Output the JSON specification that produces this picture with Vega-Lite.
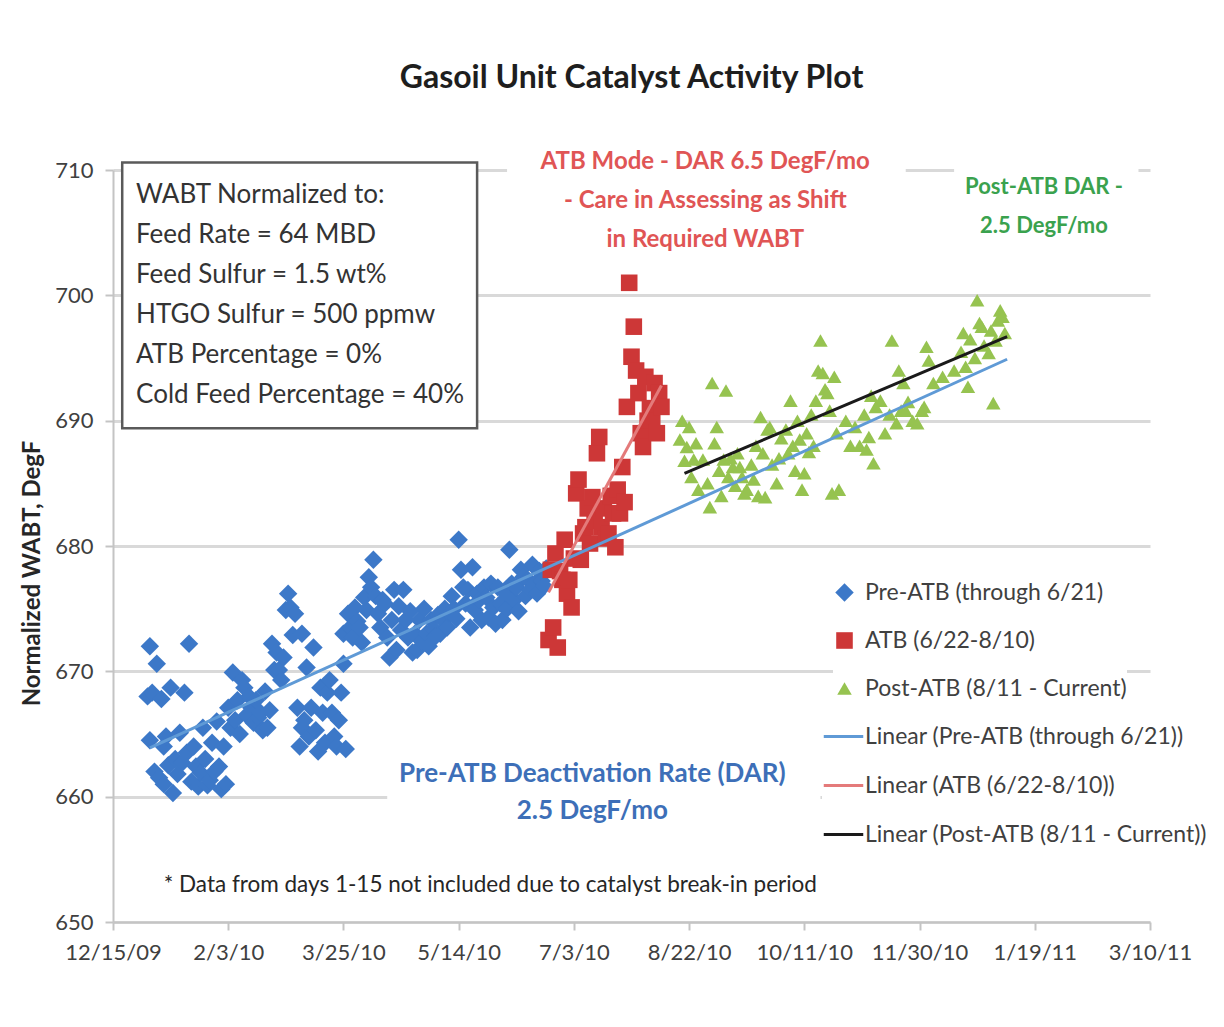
{
"$schema": "https://vega.github.io/schema/vega-lite/v6.json",
"width": 1037, "height": 752,
"autosize": {"type": "none"},
"padding": {"left": 113, "top": 170, "right": 74, "bottom": 105},
"background": "white",
"config": {"font": "Lato", "view": {"stroke": null}},
"title": {"text": "Gasoil Unit Catalyst Activity Plot", "fontSize": 32, "fontWeight": "bold", "color": "#1e1e1e", "anchor": "middle", "frame": "group", "offset": 44},
"datasets": {
"masks": [
{"date": "2010/06/04", "date2": "2010/11/24", "wabt": 712.5, "wabt2": 703.0},
{"date": "2010/12/15", "date2": "2011/03/05", "wabt": 711.5, "wabt2": 703.5},
{"date": "2010/04/13", "date2": "2010/10/18", "wabt": 664.5, "wabt2": 656.5}
],
"infobox": [{"date": "2009/12/19", "date2": "2010/05/22", "wabt": 710.6, "wabt2": 689.4}],
"pts": [
{"series":"Pre-ATB (through 6/21)","date":"2009/12/30","wabt":668.0},
{"series":"Pre-ATB (through 6/21)","date":"2009/12/31","wabt":672.0},
{"series":"Pre-ATB (through 6/21)","date":"2009/12/31","wabt":664.5},
{"series":"Pre-ATB (through 6/21)","date":"2010/01/01","wabt":668.3},
{"series":"Pre-ATB (through 6/21)","date":"2010/01/02","wabt":662.0},
{"series":"Pre-ATB (through 6/21)","date":"2010/01/03","wabt":670.6},
{"series":"Pre-ATB (through 6/21)","date":"2010/01/04","wabt":661.5},
{"series":"Pre-ATB (through 6/21)","date":"2010/01/05","wabt":667.8},
{"series":"Pre-ATB (through 6/21)","date":"2010/01/06","wabt":661.0},
{"series":"Pre-ATB (through 6/21)","date":"2010/01/06","wabt":664.0},
{"series":"Pre-ATB (through 6/21)","date":"2010/01/07","wabt":664.8},
{"series":"Pre-ATB (through 6/21)","date":"2010/01/08","wabt":662.5},
{"series":"Pre-ATB (through 6/21)","date":"2010/01/09","wabt":668.7},
{"series":"Pre-ATB (through 6/21)","date":"2010/01/10","wabt":660.3},
{"series":"Pre-ATB (through 6/21)","date":"2010/01/11","wabt":663.0},
{"series":"Pre-ATB (through 6/21)","date":"2010/01/12","wabt":661.8},
{"series":"Pre-ATB (through 6/21)","date":"2010/01/13","wabt":665.1},
{"series":"Pre-ATB (through 6/21)","date":"2010/01/14","wabt":662.7},
{"series":"Pre-ATB (through 6/21)","date":"2010/01/15","wabt":668.3},
{"series":"Pre-ATB (through 6/21)","date":"2010/01/16","wabt":663.5},
{"series":"Pre-ATB (through 6/21)","date":"2010/01/17","wabt":672.2},
{"series":"Pre-ATB (through 6/21)","date":"2010/01/18","wabt":661.2},
{"series":"Pre-ATB (through 6/21)","date":"2010/01/19","wabt":664.0},
{"series":"Pre-ATB (through 6/21)","date":"2010/01/20","wabt":662.4},
{"series":"Pre-ATB (through 6/21)","date":"2010/01/21","wabt":660.8},
{"series":"Pre-ATB (through 6/21)","date":"2010/01/22","wabt":661.9},
{"series":"Pre-ATB (through 6/21)","date":"2010/01/23","wabt":665.5},
{"series":"Pre-ATB (through 6/21)","date":"2010/01/24","wabt":663.0},
{"series":"Pre-ATB (through 6/21)","date":"2010/01/25","wabt":660.9},
{"series":"Pre-ATB (through 6/21)","date":"2010/01/26","wabt":661.3},
{"series":"Pre-ATB (through 6/21)","date":"2010/01/27","wabt":664.3},
{"series":"Pre-ATB (through 6/21)","date":"2010/01/28","wabt":662.0},
{"series":"Pre-ATB (through 6/21)","date":"2010/01/29","wabt":666.0},
{"series":"Pre-ATB (through 6/21)","date":"2010/01/30","wabt":662.4},
{"series":"Pre-ATB (through 6/21)","date":"2010/01/31","wabt":660.6},
{"series":"Pre-ATB (through 6/21)","date":"2010/02/01","wabt":664.0},
{"series":"Pre-ATB (through 6/21)","date":"2010/02/02","wabt":661.0},
{"series":"Pre-ATB (through 6/21)","date":"2010/02/03","wabt":667.1},
{"series":"Pre-ATB (through 6/21)","date":"2010/02/04","wabt":665.5},
{"series":"Pre-ATB (through 6/21)","date":"2010/02/05","wabt":669.9},
{"series":"Pre-ATB (through 6/21)","date":"2010/02/06","wabt":666.1},
{"series":"Pre-ATB (through 6/21)","date":"2010/02/07","wabt":667.7},
{"series":"Pre-ATB (through 6/21)","date":"2010/02/08","wabt":665.0},
{"series":"Pre-ATB (through 6/21)","date":"2010/02/09","wabt":669.3},
{"series":"Pre-ATB (through 6/21)","date":"2010/02/10","wabt":668.7},
{"series":"Pre-ATB (through 6/21)","date":"2010/02/11","wabt":666.5},
{"series":"Pre-ATB (through 6/21)","date":"2010/02/12","wabt":668.0},
{"series":"Pre-ATB (through 6/21)","date":"2010/02/13","wabt":667.1},
{"series":"Pre-ATB (through 6/21)","date":"2010/02/14","wabt":665.9},
{"series":"Pre-ATB (through 6/21)","date":"2010/02/15","wabt":667.7},
{"series":"Pre-ATB (through 6/21)","date":"2010/02/16","wabt":666.3},
{"series":"Pre-ATB (through 6/21)","date":"2010/02/17","wabt":666.7},
{"series":"Pre-ATB (through 6/21)","date":"2010/02/18","wabt":665.3},
{"series":"Pre-ATB (through 6/21)","date":"2010/02/19","wabt":668.4},
{"series":"Pre-ATB (through 6/21)","date":"2010/02/20","wabt":665.5},
{"series":"Pre-ATB (through 6/21)","date":"2010/02/21","wabt":666.9},
{"series":"Pre-ATB (through 6/21)","date":"2010/02/22","wabt":672.2},
{"series":"Pre-ATB (through 6/21)","date":"2010/02/23","wabt":670.1},
{"series":"Pre-ATB (through 6/21)","date":"2010/02/24","wabt":671.5},
{"series":"Pre-ATB (through 6/21)","date":"2010/02/25","wabt":670.1},
{"series":"Pre-ATB (through 6/21)","date":"2010/02/26","wabt":669.3},
{"series":"Pre-ATB (through 6/21)","date":"2010/02/27","wabt":671.1},
{"series":"Pre-ATB (through 6/21)","date":"2010/02/28","wabt":674.9},
{"series":"Pre-ATB (through 6/21)","date":"2010/03/01","wabt":676.2},
{"series":"Pre-ATB (through 6/21)","date":"2010/03/02","wabt":675.1},
{"series":"Pre-ATB (through 6/21)","date":"2010/03/03","wabt":672.9},
{"series":"Pre-ATB (through 6/21)","date":"2010/03/04","wabt":674.6},
{"series":"Pre-ATB (through 6/21)","date":"2010/03/05","wabt":667.1},
{"series":"Pre-ATB (through 6/21)","date":"2010/03/06","wabt":664.0},
{"series":"Pre-ATB (through 6/21)","date":"2010/03/07","wabt":673.0},
{"series":"Pre-ATB (through 6/21)","date":"2010/03/07","wabt":665.5},
{"series":"Pre-ATB (through 6/21)","date":"2010/03/08","wabt":666.1},
{"series":"Pre-ATB (through 6/21)","date":"2010/03/09","wabt":670.3},
{"series":"Pre-ATB (through 6/21)","date":"2010/03/10","wabt":664.8},
{"series":"Pre-ATB (through 6/21)","date":"2010/03/11","wabt":667.1},
{"series":"Pre-ATB (through 6/21)","date":"2010/03/12","wabt":671.9},
{"series":"Pre-ATB (through 6/21)","date":"2010/03/13","wabt":665.3},
{"series":"Pre-ATB (through 6/21)","date":"2010/03/14","wabt":663.6},
{"series":"Pre-ATB (through 6/21)","date":"2010/03/15","wabt":668.7},
{"series":"Pre-ATB (through 6/21)","date":"2010/03/16","wabt":666.7},
{"series":"Pre-ATB (through 6/21)","date":"2010/03/17","wabt":664.3},
{"series":"Pre-ATB (through 6/21)","date":"2010/03/18","wabt":668.3},
{"series":"Pre-ATB (through 6/21)","date":"2010/03/19","wabt":669.3},
{"series":"Pre-ATB (through 6/21)","date":"2010/03/20","wabt":666.7},
{"series":"Pre-ATB (through 6/21)","date":"2010/03/21","wabt":664.8},
{"series":"Pre-ATB (through 6/21)","date":"2010/03/22","wabt":664.0},
{"series":"Pre-ATB (through 6/21)","date":"2010/03/23","wabt":666.1},
{"series":"Pre-ATB (through 6/21)","date":"2010/03/24","wabt":668.3},
{"series":"Pre-ATB (through 6/21)","date":"2010/03/25","wabt":673.0},
{"series":"Pre-ATB (through 6/21)","date":"2010/03/25","wabt":670.6},
{"series":"Pre-ATB (through 6/21)","date":"2010/03/26","wabt":663.8},
{"series":"Pre-ATB (through 6/21)","date":"2010/03/27","wabt":674.6},
{"series":"Pre-ATB (through 6/21)","date":"2010/03/28","wabt":673.5},
{"series":"Pre-ATB (through 6/21)","date":"2010/03/29","wabt":672.7},
{"series":"Pre-ATB (through 6/21)","date":"2010/03/30","wabt":675.1},
{"series":"Pre-ATB (through 6/21)","date":"2010/03/31","wabt":674.0},
{"series":"Pre-ATB (through 6/21)","date":"2010/04/01","wabt":673.5},
{"series":"Pre-ATB (through 6/21)","date":"2010/04/02","wabt":672.3},
{"series":"Pre-ATB (through 6/21)","date":"2010/04/03","wabt":675.9},
{"series":"Pre-ATB (through 6/21)","date":"2010/04/04","wabt":674.9},
{"series":"Pre-ATB (through 6/21)","date":"2010/04/05","wabt":677.5},
{"series":"Pre-ATB (through 6/21)","date":"2010/04/06","wabt":676.7},
{"series":"Pre-ATB (through 6/21)","date":"2010/04/07","wabt":678.9},
{"series":"Pre-ATB (through 6/21)","date":"2010/04/08","wabt":676.0},
{"series":"Pre-ATB (through 6/21)","date":"2010/04/09","wabt":674.6},
{"series":"Pre-ATB (through 6/21)","date":"2010/04/10","wabt":673.5},
{"series":"Pre-ATB (through 6/21)","date":"2010/04/11","wabt":675.7},
{"series":"Pre-ATB (through 6/21)","date":"2010/04/12","wabt":675.4},
{"series":"Pre-ATB (through 6/21)","date":"2010/04/13","wabt":672.7},
{"series":"Pre-ATB (through 6/21)","date":"2010/04/14","wabt":671.1},
{"series":"Pre-ATB (through 6/21)","date":"2010/04/15","wabt":674.1},
{"series":"Pre-ATB (through 6/21)","date":"2010/04/16","wabt":676.5},
{"series":"Pre-ATB (through 6/21)","date":"2010/04/17","wabt":671.7},
{"series":"Pre-ATB (through 6/21)","date":"2010/04/18","wabt":675.2},
{"series":"Pre-ATB (through 6/21)","date":"2010/04/19","wabt":673.3},
{"series":"Pre-ATB (through 6/21)","date":"2010/04/20","wabt":676.5},
{"series":"Pre-ATB (through 6/21)","date":"2010/04/21","wabt":674.1},
{"series":"Pre-ATB (through 6/21)","date":"2010/04/22","wabt":672.7},
{"series":"Pre-ATB (through 6/21)","date":"2010/04/23","wabt":674.8},
{"series":"Pre-ATB (through 6/21)","date":"2010/04/24","wabt":671.5},
{"series":"Pre-ATB (through 6/21)","date":"2010/04/25","wabt":673.0},
{"series":"Pre-ATB (through 6/21)","date":"2010/04/26","wabt":671.7},
{"series":"Pre-ATB (through 6/21)","date":"2010/04/27","wabt":674.1},
{"series":"Pre-ATB (through 6/21)","date":"2010/04/28","wabt":672.4},
{"series":"Pre-ATB (through 6/21)","date":"2010/04/29","wabt":675.0},
{"series":"Pre-ATB (through 6/21)","date":"2010/04/30","wabt":673.0},
{"series":"Pre-ATB (through 6/21)","date":"2010/05/01","wabt":672.0},
{"series":"Pre-ATB (through 6/21)","date":"2010/05/02","wabt":674.1},
{"series":"Pre-ATB (through 6/21)","date":"2010/05/03","wabt":673.4},
{"series":"Pre-ATB (through 6/21)","date":"2010/05/04","wabt":672.8},
{"series":"Pre-ATB (through 6/21)","date":"2010/05/05","wabt":674.5},
{"series":"Pre-ATB (through 6/21)","date":"2010/05/06","wabt":673.0},
{"series":"Pre-ATB (through 6/21)","date":"2010/05/07","wabt":674.1},
{"series":"Pre-ATB (through 6/21)","date":"2010/05/08","wabt":675.0},
{"series":"Pre-ATB (through 6/21)","date":"2010/05/09","wabt":673.5},
{"series":"Pre-ATB (through 6/21)","date":"2010/05/10","wabt":674.6},
{"series":"Pre-ATB (through 6/21)","date":"2010/05/11","wabt":676.0},
{"series":"Pre-ATB (through 6/21)","date":"2010/05/12","wabt":675.0},
{"series":"Pre-ATB (through 6/21)","date":"2010/05/13","wabt":674.2},
{"series":"Pre-ATB (through 6/21)","date":"2010/05/14","wabt":680.5},
{"series":"Pre-ATB (through 6/21)","date":"2010/05/15","wabt":678.1},
{"series":"Pre-ATB (through 6/21)","date":"2010/05/16","wabt":676.7},
{"series":"Pre-ATB (through 6/21)","date":"2010/05/17","wabt":675.4},
{"series":"Pre-ATB (through 6/21)","date":"2010/05/18","wabt":676.5},
{"series":"Pre-ATB (through 6/21)","date":"2010/05/19","wabt":673.5},
{"series":"Pre-ATB (through 6/21)","date":"2010/05/20","wabt":678.3},
{"series":"Pre-ATB (through 6/21)","date":"2010/05/21","wabt":674.9},
{"series":"Pre-ATB (through 6/21)","date":"2010/05/22","wabt":676.2},
{"series":"Pre-ATB (through 6/21)","date":"2010/05/23","wabt":675.7},
{"series":"Pre-ATB (through 6/21)","date":"2010/05/24","wabt":674.1},
{"series":"Pre-ATB (through 6/21)","date":"2010/05/25","wabt":676.7},
{"series":"Pre-ATB (through 6/21)","date":"2010/05/26","wabt":675.9},
{"series":"Pre-ATB (through 6/21)","date":"2010/05/27","wabt":674.3},
{"series":"Pre-ATB (through 6/21)","date":"2010/05/28","wabt":677.0},
{"series":"Pre-ATB (through 6/21)","date":"2010/05/29","wabt":675.1},
{"series":"Pre-ATB (through 6/21)","date":"2010/05/30","wabt":673.8},
{"series":"Pre-ATB (through 6/21)","date":"2010/05/31","wabt":676.7},
{"series":"Pre-ATB (through 6/21)","date":"2010/06/01","wabt":675.4},
{"series":"Pre-ATB (through 6/21)","date":"2010/06/02","wabt":674.1},
{"series":"Pre-ATB (through 6/21)","date":"2010/06/03","wabt":676.3},
{"series":"Pre-ATB (through 6/21)","date":"2010/06/04","wabt":675.0},
{"series":"Pre-ATB (through 6/21)","date":"2010/06/05","wabt":679.7},
{"series":"Pre-ATB (through 6/21)","date":"2010/06/06","wabt":677.0},
{"series":"Pre-ATB (through 6/21)","date":"2010/06/07","wabt":675.7},
{"series":"Pre-ATB (through 6/21)","date":"2010/06/08","wabt":676.7},
{"series":"Pre-ATB (through 6/21)","date":"2010/06/09","wabt":674.8},
{"series":"Pre-ATB (through 6/21)","date":"2010/06/10","wabt":678.1},
{"series":"Pre-ATB (through 6/21)","date":"2010/06/11","wabt":677.5},
{"series":"Pre-ATB (through 6/21)","date":"2010/06/12","wabt":676.0},
{"series":"Pre-ATB (through 6/21)","date":"2010/06/13","wabt":677.3},
{"series":"Pre-ATB (through 6/21)","date":"2010/06/14","wabt":676.5},
{"series":"Pre-ATB (through 6/21)","date":"2010/06/15","wabt":678.5},
{"series":"Pre-ATB (through 6/21)","date":"2010/06/16","wabt":677.0},
{"series":"Pre-ATB (through 6/21)","date":"2010/06/17","wabt":676.2},
{"series":"Pre-ATB (through 6/21)","date":"2010/06/18","wabt":678.0},
{"series":"Pre-ATB (through 6/21)","date":"2010/06/19","wabt":677.2},
{"series":"Pre-ATB (through 6/21)","date":"2010/06/20","wabt":676.8},
{"series":"Pre-ATB (through 6/21)","date":"2010/06/21","wabt":678.2},
{"series":"ATB (6/22-8/10)","date":"2010/06/22","wabt":672.5},
{"series":"ATB (6/22-8/10)","date":"2010/06/23","wabt":678.1},
{"series":"ATB (6/22-8/10)","date":"2010/06/24","wabt":673.5},
{"series":"ATB (6/22-8/10)","date":"2010/06/25","wabt":679.4},
{"series":"ATB (6/22-8/10)","date":"2010/06/26","wabt":671.9},
{"series":"ATB (6/22-8/10)","date":"2010/06/27","wabt":678.0},
{"series":"ATB (6/22-8/10)","date":"2010/06/28","wabt":677.3},
{"series":"ATB (6/22-8/10)","date":"2010/06/29","wabt":680.5},
{"series":"ATB (6/22-8/10)","date":"2010/06/30","wabt":676.2},
{"series":"ATB (6/22-8/10)","date":"2010/07/01","wabt":677.3},
{"series":"ATB (6/22-8/10)","date":"2010/07/02","wabt":675.1},
{"series":"ATB (6/22-8/10)","date":"2010/07/03","wabt":679.0},
{"series":"ATB (6/22-8/10)","date":"2010/07/04","wabt":684.2},
{"series":"ATB (6/22-8/10)","date":"2010/07/05","wabt":685.3},
{"series":"ATB (6/22-8/10)","date":"2010/07/06","wabt":678.9},
{"series":"ATB (6/22-8/10)","date":"2010/07/07","wabt":681.0},
{"series":"ATB (6/22-8/10)","date":"2010/07/08","wabt":681.5},
{"series":"ATB (6/22-8/10)","date":"2010/07/09","wabt":683.0},
{"series":"ATB (6/22-8/10)","date":"2010/07/10","wabt":680.2},
{"series":"ATB (6/22-8/10)","date":"2010/07/11","wabt":683.9},
{"series":"ATB (6/22-8/10)","date":"2010/07/12","wabt":682.0},
{"series":"ATB (6/22-8/10)","date":"2010/07/13","wabt":687.4},
{"series":"ATB (6/22-8/10)","date":"2010/07/14","wabt":688.7},
{"series":"ATB (6/22-8/10)","date":"2010/07/15","wabt":681.5},
{"series":"ATB (6/22-8/10)","date":"2010/07/16","wabt":683.0},
{"series":"ATB (6/22-8/10)","date":"2010/07/17","wabt":680.6},
{"series":"ATB (6/22-8/10)","date":"2010/07/18","wabt":681.0},
{"series":"ATB (6/22-8/10)","date":"2010/07/19","wabt":684.0},
{"series":"ATB (6/22-8/10)","date":"2010/07/20","wabt":682.6},
{"series":"ATB (6/22-8/10)","date":"2010/07/21","wabt":679.9},
{"series":"ATB (6/22-8/10)","date":"2010/07/22","wabt":684.5},
{"series":"ATB (6/22-8/10)","date":"2010/07/23","wabt":682.6},
{"series":"ATB (6/22-8/10)","date":"2010/07/24","wabt":686.3},
{"series":"ATB (6/22-8/10)","date":"2010/07/25","wabt":683.5},
{"series":"ATB (6/22-8/10)","date":"2010/07/26","wabt":691.1},
{"series":"ATB (6/22-8/10)","date":"2010/07/27","wabt":701.0},
{"series":"ATB (6/22-8/10)","date":"2010/07/28","wabt":695.1},
{"series":"ATB (6/22-8/10)","date":"2010/07/29","wabt":697.5},
{"series":"ATB (6/22-8/10)","date":"2010/07/30","wabt":694.0},
{"series":"ATB (6/22-8/10)","date":"2010/07/31","wabt":692.2},
{"series":"ATB (6/22-8/10)","date":"2010/08/01","wabt":689.0},
{"series":"ATB (6/22-8/10)","date":"2010/08/02","wabt":687.9},
{"series":"ATB (6/22-8/10)","date":"2010/08/03","wabt":693.5},
{"series":"ATB (6/22-8/10)","date":"2010/08/04","wabt":690.0},
{"series":"ATB (6/22-8/10)","date":"2010/08/05","wabt":691.0},
{"series":"ATB (6/22-8/10)","date":"2010/08/06","wabt":690.0},
{"series":"ATB (6/22-8/10)","date":"2010/08/07","wabt":693.0},
{"series":"ATB (6/22-8/10)","date":"2010/08/08","wabt":689.0},
{"series":"ATB (6/22-8/10)","date":"2010/08/09","wabt":692.2},
{"series":"ATB (6/22-8/10)","date":"2010/08/10","wabt":691.1},
{"series":"Post-ATB (8/11 - Current)","date":"2010/08/18","wabt":688.5},
{"series":"Post-ATB (8/11 - Current)","date":"2010/08/19","wabt":690.0},
{"series":"Post-ATB (8/11 - Current)","date":"2010/08/20","wabt":686.8},
{"series":"Post-ATB (8/11 - Current)","date":"2010/08/21","wabt":687.9},
{"series":"Post-ATB (8/11 - Current)","date":"2010/08/22","wabt":689.5},
{"series":"Post-ATB (8/11 - Current)","date":"2010/08/23","wabt":685.5},
{"series":"Post-ATB (8/11 - Current)","date":"2010/08/24","wabt":686.9},
{"series":"Post-ATB (8/11 - Current)","date":"2010/08/25","wabt":688.2},
{"series":"Post-ATB (8/11 - Current)","date":"2010/08/26","wabt":684.5},
{"series":"Post-ATB (8/11 - Current)","date":"2010/08/28","wabt":686.9},
{"series":"Post-ATB (8/11 - Current)","date":"2010/08/30","wabt":685.0},
{"series":"Post-ATB (8/11 - Current)","date":"2010/08/31","wabt":683.1},
{"series":"Post-ATB (8/11 - Current)","date":"2010/09/01","wabt":693.0},
{"series":"Post-ATB (8/11 - Current)","date":"2010/09/02","wabt":688.2},
{"series":"Post-ATB (8/11 - Current)","date":"2010/09/03","wabt":689.5},
{"series":"Post-ATB (8/11 - Current)","date":"2010/09/04","wabt":686.0},
{"series":"Post-ATB (8/11 - Current)","date":"2010/09/05","wabt":684.0},
{"series":"Post-ATB (8/11 - Current)","date":"2010/09/06","wabt":686.9},
{"series":"Post-ATB (8/11 - Current)","date":"2010/09/07","wabt":692.4},
{"series":"Post-ATB (8/11 - Current)","date":"2010/09/08","wabt":685.5},
{"series":"Post-ATB (8/11 - Current)","date":"2010/09/09","wabt":687.0},
{"series":"Post-ATB (8/11 - Current)","date":"2010/09/10","wabt":686.3},
{"series":"Post-ATB (8/11 - Current)","date":"2010/09/11","wabt":684.8},
{"series":"Post-ATB (8/11 - Current)","date":"2010/09/12","wabt":687.4},
{"series":"Post-ATB (8/11 - Current)","date":"2010/09/13","wabt":686.3},
{"series":"Post-ATB (8/11 - Current)","date":"2010/09/14","wabt":685.5},
{"series":"Post-ATB (8/11 - Current)","date":"2010/09/15","wabt":684.2},
{"series":"Post-ATB (8/11 - Current)","date":"2010/09/16","wabt":684.5},
{"series":"Post-ATB (8/11 - Current)","date":"2010/09/18","wabt":686.5},
{"series":"Post-ATB (8/11 - Current)","date":"2010/09/19","wabt":685.3},
{"series":"Post-ATB (8/11 - Current)","date":"2010/09/20","wabt":688.0},
{"series":"Post-ATB (8/11 - Current)","date":"2010/09/21","wabt":684.0},
{"series":"Post-ATB (8/11 - Current)","date":"2010/09/22","wabt":690.3},
{"series":"Post-ATB (8/11 - Current)","date":"2010/09/23","wabt":687.4},
{"series":"Post-ATB (8/11 - Current)","date":"2010/09/24","wabt":683.9},
{"series":"Post-ATB (8/11 - Current)","date":"2010/09/25","wabt":689.3},
{"series":"Post-ATB (8/11 - Current)","date":"2010/09/26","wabt":689.5},
{"series":"Post-ATB (8/11 - Current)","date":"2010/09/27","wabt":686.5},
{"series":"Post-ATB (8/11 - Current)","date":"2010/09/29","wabt":685.0},
{"series":"Post-ATB (8/11 - Current)","date":"2010/09/30","wabt":687.0},
{"series":"Post-ATB (8/11 - Current)","date":"2010/10/01","wabt":688.6},
{"series":"Post-ATB (8/11 - Current)","date":"2010/10/03","wabt":689.3},
{"series":"Post-ATB (8/11 - Current)","date":"2010/10/04","wabt":687.4},
{"series":"Post-ATB (8/11 - Current)","date":"2010/10/05","wabt":691.6},
{"series":"Post-ATB (8/11 - Current)","date":"2010/10/06","wabt":688.0},
{"series":"Post-ATB (8/11 - Current)","date":"2010/10/07","wabt":686.0},
{"series":"Post-ATB (8/11 - Current)","date":"2010/10/08","wabt":690.0},
{"series":"Post-ATB (8/11 - Current)","date":"2010/10/09","wabt":688.5},
{"series":"Post-ATB (8/11 - Current)","date":"2010/10/10","wabt":684.5},
{"series":"Post-ATB (8/11 - Current)","date":"2010/10/11","wabt":685.8},
{"series":"Post-ATB (8/11 - Current)","date":"2010/10/12","wabt":689.0},
{"series":"Post-ATB (8/11 - Current)","date":"2010/10/13","wabt":687.5},
{"series":"Post-ATB (8/11 - Current)","date":"2010/10/14","wabt":690.5},
{"series":"Post-ATB (8/11 - Current)","date":"2010/10/15","wabt":688.0},
{"series":"Post-ATB (8/11 - Current)","date":"2010/10/16","wabt":691.6},
{"series":"Post-ATB (8/11 - Current)","date":"2010/10/17","wabt":694.0},
{"series":"Post-ATB (8/11 - Current)","date":"2010/10/18","wabt":696.4},
{"series":"Post-ATB (8/11 - Current)","date":"2010/10/19","wabt":693.8},
{"series":"Post-ATB (8/11 - Current)","date":"2010/10/20","wabt":692.5},
{"series":"Post-ATB (8/11 - Current)","date":"2010/10/21","wabt":692.2},
{"series":"Post-ATB (8/11 - Current)","date":"2010/10/22","wabt":690.8},
{"series":"Post-ATB (8/11 - Current)","date":"2010/10/23","wabt":684.2},
{"series":"Post-ATB (8/11 - Current)","date":"2010/10/24","wabt":693.5},
{"series":"Post-ATB (8/11 - Current)","date":"2010/10/25","wabt":689.0},
{"series":"Post-ATB (8/11 - Current)","date":"2010/10/26","wabt":684.5},
{"series":"Post-ATB (8/11 - Current)","date":"2010/10/29","wabt":690.0},
{"series":"Post-ATB (8/11 - Current)","date":"2010/10/31","wabt":688.0},
{"series":"Post-ATB (8/11 - Current)","date":"2010/11/02","wabt":689.5},
{"series":"Post-ATB (8/11 - Current)","date":"2010/11/04","wabt":688.0},
{"series":"Post-ATB (8/11 - Current)","date":"2010/11/06","wabt":690.5},
{"series":"Post-ATB (8/11 - Current)","date":"2010/11/07","wabt":687.7},
{"series":"Post-ATB (8/11 - Current)","date":"2010/11/08","wabt":688.7},
{"series":"Post-ATB (8/11 - Current)","date":"2010/11/09","wabt":692.0},
{"series":"Post-ATB (8/11 - Current)","date":"2010/11/10","wabt":686.6},
{"series":"Post-ATB (8/11 - Current)","date":"2010/11/11","wabt":691.1},
{"series":"Post-ATB (8/11 - Current)","date":"2010/11/13","wabt":691.6},
{"series":"Post-ATB (8/11 - Current)","date":"2010/11/15","wabt":689.0},
{"series":"Post-ATB (8/11 - Current)","date":"2010/11/17","wabt":690.5},
{"series":"Post-ATB (8/11 - Current)","date":"2010/11/18","wabt":696.4},
{"series":"Post-ATB (8/11 - Current)","date":"2010/11/20","wabt":689.8},
{"series":"Post-ATB (8/11 - Current)","date":"2010/11/21","wabt":694.0},
{"series":"Post-ATB (8/11 - Current)","date":"2010/11/22","wabt":690.8},
{"series":"Post-ATB (8/11 - Current)","date":"2010/11/23","wabt":693.0},
{"series":"Post-ATB (8/11 - Current)","date":"2010/11/24","wabt":690.8},
{"series":"Post-ATB (8/11 - Current)","date":"2010/11/25","wabt":691.5},
{"series":"Post-ATB (8/11 - Current)","date":"2010/11/27","wabt":690.0},
{"series":"Post-ATB (8/11 - Current)","date":"2010/11/29","wabt":689.8},
{"series":"Post-ATB (8/11 - Current)","date":"2010/12/01","wabt":690.8},
{"series":"Post-ATB (8/11 - Current)","date":"2010/12/02","wabt":691.1},
{"series":"Post-ATB (8/11 - Current)","date":"2010/12/03","wabt":695.9},
{"series":"Post-ATB (8/11 - Current)","date":"2010/12/04","wabt":694.8},
{"series":"Post-ATB (8/11 - Current)","date":"2010/12/06","wabt":693.0},
{"series":"Post-ATB (8/11 - Current)","date":"2010/12/10","wabt":693.5},
{"series":"Post-ATB (8/11 - Current)","date":"2010/12/15","wabt":694.0},
{"series":"Post-ATB (8/11 - Current)","date":"2010/12/18","wabt":695.5},
{"series":"Post-ATB (8/11 - Current)","date":"2010/12/19","wabt":697.0},
{"series":"Post-ATB (8/11 - Current)","date":"2010/12/20","wabt":694.3},
{"series":"Post-ATB (8/11 - Current)","date":"2010/12/21","wabt":692.7},
{"series":"Post-ATB (8/11 - Current)","date":"2010/12/22","wabt":696.5},
{"series":"Post-ATB (8/11 - Current)","date":"2010/12/24","wabt":695.0},
{"series":"Post-ATB (8/11 - Current)","date":"2010/12/25","wabt":699.6},
{"series":"Post-ATB (8/11 - Current)","date":"2010/12/26","wabt":697.8},
{"series":"Post-ATB (8/11 - Current)","date":"2010/12/27","wabt":697.5},
{"series":"Post-ATB (8/11 - Current)","date":"2010/12/28","wabt":696.0},
{"series":"Post-ATB (8/11 - Current)","date":"2010/12/30","wabt":695.4},
{"series":"Post-ATB (8/11 - Current)","date":"2010/12/31","wabt":697.2},
{"series":"Post-ATB (8/11 - Current)","date":"2011/01/01","wabt":691.4},
{"series":"Post-ATB (8/11 - Current)","date":"2011/01/02","wabt":696.4},
{"series":"Post-ATB (8/11 - Current)","date":"2011/01/03","wabt":698.0},
{"series":"Post-ATB (8/11 - Current)","date":"2011/01/04","wabt":698.8},
{"series":"Post-ATB (8/11 - Current)","date":"2011/01/05","wabt":698.3},
{"series":"Post-ATB (8/11 - Current)","date":"2011/01/06","wabt":697.0}
],
"trends": [
{"trend": "Linear (Pre-ATB (through 6/21))", "date": "2009/12/31", "wabt": 663.9},
{"trend": "Linear (Pre-ATB (through 6/21))", "date": "2011/01/07", "wabt": 694.9},
{"trend": "Linear (ATB (6/22-8/10))", "date": "2010/06/22", "wabt": 676.3},
{"trend": "Linear (ATB (6/22-8/10))", "date": "2010/08/10", "wabt": 692.8},
{"trend": "Linear (Post-ATB (8/11 - Current))", "date": "2010/08/20", "wabt": 685.8},
{"trend": "Linear (Post-ATB (8/11 - Current))", "date": "2011/01/07", "wabt": 696.7}
],
"infotext": [{"label": "WABT Normalized to:\nFeed Rate = 64 MBD\nFeed Sulfur = 1.5 wt%\nHTGO Sulfur = 500 ppmw\nATB Percentage = 0%\nCold Feed Percentage = 40%", "date": "2009/12/25", "wabt": 707.4}],
"redtext": [{"label": "ATB Mode - DAR 6.5  DegF/mo\n- Care in Assessing as Shift\nin Required WABT", "date": "2010/08/29", "wabt": 710.1}],
"greentext": [{"label": "Post-ATB DAR -\n2.5 DegF/mo", "date": "2011/01/23", "wabt": 708.1}],
"bluetext": [{"label": "Pre-ATB Deactivation Rate (DAR)\n2.5 DegF/mo", "date": "2010/07/11", "wabt": 661.2}],
"foot": [{"label": "* Data from days 1-15 not included due to catalyst break-in period", "date": "2010/01/06", "wabt": 652.4}]
},
"layer": [
{
"data": {"name": "masks"},
"mark": {"type": "rect", "fill": "white", "strokeWidth": 0},
"encoding": {
"x": {"field": "date", "type": "temporal",
"scale": {"domain": [{"year": 2009, "month": 12, "date": 15}, {"year": 2011, "month": 3, "date": 10}]},
"axis": {"values": [
{"year": 2009, "month": 12, "date": 15}, {"year": 2010, "month": 2, "date": 3}, {"year": 2010, "month": 3, "date": 25},
{"year": 2010, "month": 5, "date": 14}, {"year": 2010, "month": 7, "date": 3}, {"year": 2010, "month": 8, "date": 22},
{"year": 2010, "month": 10, "date": 11}, {"year": 2010, "month": 11, "date": 30}, {"year": 2011, "month": 1, "date": 19},
{"year": 2011, "month": 3, "date": 10}],
"format": "%-m/%-d/%y", "title": null, "grid": false,
"labelFont": "Lato", "labelFontSize": 22, "labelColor": "#404040", "labelPadding": 12,
"labelFlush": false, "labelOverlap": false,
"domainColor": "#c4c4c4", "domainWidth": 2, "tickColor": "#c4c4c4", "tickWidth": 2, "tickSize": 8}},
"x2": {"field": "date2"},
"y": {"field": "wabt", "type": "quantitative",
"scale": {"domain": [650, 710], "zero": false, "nice": false},
"axis": {"values": [650, 660, 670, 680, 690, 700, 710],
"title": "Normalized WABT, DegF", "titleFont": "Lato", "titleFontSize": 24, "titleFontWeight": "bold", "titleColor": "#262626",
"titleX": -81, "titleY": 403, "titleBaseline": "middle", "titleAlign": "center", "titleAngle": -90,
"labelFont": "Lato", "labelFontSize": 22, "labelColor": "#404040", "labelPadding": 12,
"grid": true, "gridColor": "#d9d9d9", "gridWidth": 3,
"domainColor": "#c4c4c4", "domainWidth": 2, "tickColor": "#c4c4c4", "tickWidth": 2, "tickSize": 8}},
"y2": {"field": "wabt2"}
}
},
{
"data": {"name": "infobox"},
"mark": {"type": "rect", "fill": "white", "stroke": "#5a5a5a", "strokeWidth": 2.5},
"encoding": {
"x": {"field": "date", "type": "temporal"},
"x2": {"field": "date2"},
"y": {"field": "wabt", "type": "quantitative"},
"y2": {"field": "wabt2"}
}
},
{
"data": {"name": "pts"},
"mark": {"type": "point", "filled": true, "opacity": 1, "strokeWidth": 0},
"encoding": {
"x": {"field": "date", "type": "temporal"},
"y": {"field": "wabt", "type": "quantitative"},
"color": {"field": "series", "type": "nominal",
"scale": {"domain": ["Pre-ATB (through 6/21)", "ATB (6/22-8/10)", "Post-ATB (8/11 - Current)"], "range": ["#3c78c8", "#cd3737", "#96c350"]},
"legend": {"title": null, "orient": "none", "legendX": 720, "legendY": 411, "symbolSize": 110, "labelFont": "Lato", "labelFontSize": 23, "labelColor": "#404040", "labelOffset": 9, "labelLimit": 400, "rowPadding": 24, "padding": 0, "fillColor": "white", "symbolStrokeWidth": 0}},
"shape": {"field": "series", "type": "nominal",
"scale": {"domain": ["Pre-ATB (through 6/21)", "ATB (6/22-8/10)", "Post-ATB (8/11 - Current)"], "range": ["diamond", "square", "triangle-up"]},
"legend": {"title": null, "orient": "none", "legendX": 720, "legendY": 411, "symbolSize": 110, "labelFont": "Lato", "labelFontSize": 23, "labelColor": "#404040", "labelOffset": 9, "labelLimit": 400, "rowPadding": 24, "padding": 0, "fillColor": "white", "symbolStrokeWidth": 0}},
"size": {"field": "series", "type": "nominal",
"scale": {"domain": ["Pre-ATB (through 6/21)", "ATB (6/22-8/10)", "Post-ATB (8/11 - Current)"], "range": [340, 210, 330]},
"legend": null}
}
},
{
"data": {"name": "trends"},
"mark": {"type": "line", "strokeWidth": 3},
"encoding": {
"x": {"field": "date", "type": "temporal"},
"y": {"field": "wabt", "type": "quantitative"},
"color": {"field": "trend", "type": "nominal",
"scale": {"domain": ["Linear (Pre-ATB (through 6/21))", "Linear (ATB (6/22-8/10))", "Linear (Post-ATB (8/11 - Current))"], "range": ["#5f9ad6", "#e47a7a", "#1a1a1a"]},
"legend": {"title": null, "orient": "none", "legendX": 709, "legendY": 545, "symbolType": "stroke", "symbolSize": 1560, "symbolStrokeWidth": 3, "labelFont": "Lato", "labelFontSize": 23, "labelColor": "#404040", "labelOffset": 0, "labelLimit": 400, "rowPadding": 15, "padding": 0, "fillColor": "white"}}
}
},
{
"data": {"name": "infotext"},
"mark": {"type": "text", "align": "left", "baseline": "alphabetic", "font": "Lato", "fontSize": 26, "lineHeight": 40, "lineBreak": "\n", "color": "#333333"},
"encoding": {"x": {"field": "date", "type": "temporal"}, "y": {"field": "wabt", "type": "quantitative"}, "text": {"field": "label"}}
},
{
"data": {"name": "redtext"},
"mark": {"type": "text", "align": "center", "baseline": "alphabetic", "font": "Lato", "fontSize": 24, "fontWeight": "bold", "lineHeight": 39, "lineBreak": "\n", "color": "#e05555"},
"encoding": {"x": {"field": "date", "type": "temporal"}, "y": {"field": "wabt", "type": "quantitative"}, "text": {"field": "label"}}
},
{
"data": {"name": "greentext"},
"mark": {"type": "text", "align": "center", "baseline": "alphabetic", "font": "Lato", "fontSize": 22, "fontWeight": "bold", "lineHeight": 39, "lineBreak": "\n", "color": "#3aa24e"},
"encoding": {"x": {"field": "date", "type": "temporal"}, "y": {"field": "wabt", "type": "quantitative"}, "text": {"field": "label"}}
},
{
"data": {"name": "bluetext"},
"mark": {"type": "text", "align": "center", "baseline": "alphabetic", "font": "Lato", "fontSize": 26, "fontWeight": "bold", "lineHeight": 37, "lineBreak": "\n", "color": "#3d6fb8"},
"encoding": {"x": {"field": "date", "type": "temporal"}, "y": {"field": "wabt", "type": "quantitative"}, "text": {"field": "label"}}
},
{
"data": {"name": "foot"},
"mark": {"type": "text", "align": "left", "baseline": "alphabetic", "font": "Lato", "fontSize": 22.5, "color": "#262626"},
"encoding": {"x": {"field": "date", "type": "temporal"}, "y": {"field": "wabt", "type": "quantitative"}, "text": {"field": "label"}}
}
],
"resolve": {"scale": {"color": "independent", "shape": "independent", "size": "independent"}}
}
